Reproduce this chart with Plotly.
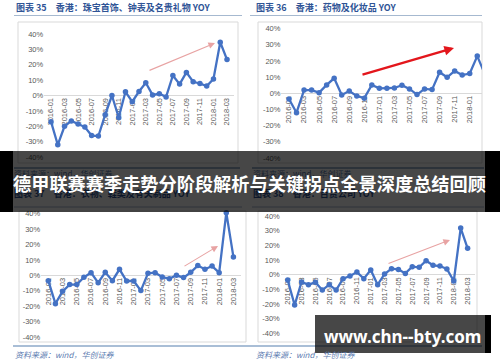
import plotly.graph_objects as go

W, H = 500, 362

months = ["2016-01", "2016-02", "2016-03", "2016-04", "2016-05", "2016-06", "2016-07",
          "2016-08", "2016-09", "2016-10", "2016-11", "2016-12", "2017-01", "2017-02",
          "2017-03", "2017-04", "2017-05", "2017-06", "2017-07", "2017-08", "2017-09",
          "2017-10", "2017-11", "2017-12", "2018-01", "2018-02", "2018-03"]
tick_months = ["2016-01", "2016-03", "2016-05", "2016-07", "2016-09", "2016-11", "2017-01",
               "2017-03", "2017-05", "2017-07", "2017-09", "2017-11", "2018-01", "2018-03"]
y_ticks = [-40, -30, -20, -10, 0, 10, 20, 30, 40]
y_ticktext = ["-40%", "-30%", "-20%", "-10%", "0%", "10%", "20%", "30%", "40%"]

jewelry_yoy = [-17, -32, -20, -16.5, -18.5, -20.5, -26, -26.3, -12.5, 0, -14.3, 2.4, -4, 2.6,
               8.3, 0.4, 1.1, -0.9, 13, 7.4, 15, 8.9, 7.8, 6.1, 10.7, 34.6, 23.3]
drug_yoy = [-3.5, -12, 2, 2, 0.4, 5.2, 9.3, -1, 1.4, -1.6, -3, 5.2, 3.1, 3.1, 3.3, 5, 2.7,
            -0.8, 2.7, 2.3, 13, 9.9, 13.8, 11.3, 12.2, 23, 12]
clothing_yoy = [-3.5, -18.4, -10.4, -6, -6, -1.3, 1.7, -4.8, 1.9, -3.5, 3.9, -3.7, -3.7, -9.9,
                1.3, 1.7, -1.1, -2.2, 0, -1.5, 1.9, 6.3, 3.9, 6, 1.7, 40.6, 11.9]
dept_yoy = [-3.6, -20.7, -5, -6.8, -5.2, -10.5, -6.8, -10.5, -2.7, -0.9, 1.8, -2.7, 3.2, -6.8,
            0.5, 4.1, 3.6, 0.9, 5.5, 5, 9.5, 6.4, 5.9, 3.9, -4.3, 31.8, 18]

titles = ["图表 35　香港：珠宝首饰、钟表及名贵礼物 YOY",
          "图表 36　香港：药物及化妆品 YOY",
          "图表 37　香港：衣物、鞋类及有关制品 YOY",
          "图表 38　香港：百货公司 YOY"]
source_text = "资料来源：wind，华创证券"
banner_text = "德甲联赛赛季走势分阶段解析与关键拐点全景深度总结回顾"
watermark_text = "www.chn--bty.com"

series = [jewelry_yoy, drug_yoy, clothing_yoy, dept_yoy]

# geometry of each panel (pixels): first point x, px per month, x range, zero-line y, px per %
panels = [
    dict(x0=51.0, dx=6.77, xr=(-1, 27), y0=95.5, ppu=1.54),
    dict(x0=289.0, dx=7.53, xr=(-1, 25.63), y0=93.3, ppu=1.617),
    dict(x0=48.3, dx=7.12, xr=(-1, 27), y0=275.3, ppu=1.543),
    dict(x0=287.7, dx=6.92, xr=(-1, 27), y0=274.7, ppu=1.467),
]

LINE = "#4472c4"
TICKFONT = dict(family="Liberation Sans, Arial", size=7.5, color="#595959")
TITLEFONT = dict(family="Noto Sans CJK SC", size=9, color="#2f5496", weight="bold")
SRCFONT = dict(family="Noto Sans CJK SC", size=8, color="#5b7bb0", style="italic")

def px(x):
    return x / W

def py(y):
    return 1 - y / H

fig = go.Figure()
layout = dict(width=W, height=H, margin=dict(l=0, r=0, t=0, b=0),
              paper_bgcolor="white", plot_bgcolor="rgba(0,0,0,0)", showlegend=False)

for i, (vals, g) in enumerate(zip(series, panels)):
    n = "" if i == 0 else str(i + 1)
    fig.add_trace(go.Scatter(x=months, y=vals, mode="lines+markers",
                             line=dict(color=LINE, width=2.3),
                             marker=dict(color=LINE, size=5.5),
                             cliponaxis=False, hoverinfo="skip",
                             xaxis="x" + n, yaxis="y" + n))
    xl = g["x0"] + g["xr"][0] * g["dx"]
    xr = g["x0"] + g["xr"][1] * g["dx"]
    yt = g["y0"] - 45 * g["ppu"]
    yb = g["y0"] + 45 * g["ppu"]
    layout["xaxis" + n] = dict(domain=[px(xl), px(xr)], type="category",
                               categoryorder="array", categoryarray=months,
                               range=list(g["xr"]), anchor="free", position=py(g["y0"]),
                               tickmode="array", tickvals=tick_months, ticktext=tick_months,
                               tickangle=-90, tickfont=TICKFONT, showgrid=False,
                               showline=False, zeroline=False, ticks="",
                               layer="below traces", fixedrange=True)
    layout["yaxis" + n] = dict(domain=[py(yb), py(yt)], range=[-45, 45], anchor="x" + n,
                               tickmode="array", tickvals=y_ticks, ticktext=y_ticktext,
                               tickfont=TICKFONT, showgrid=False, showline=False,
                               zeroline=True, zerolinecolor="#d9d9d9", zerolinewidth=1,
                               ticks="", layer="below traces", fixedrange=True)

# overlay pixel axis for text hidden beneath the banner
layout["xaxis5"] = dict(domain=[0, 1], range=[0, W], visible=False, fixedrange=True)
layout["yaxis5"] = dict(domain=[0, 1], range=[H, 0], visible=False, fixedrange=True, anchor="x5")
fig.add_trace(go.Scatter(x=[14, 253], y=[175, 175], mode="text",
                         text=[source_text, source_text], textposition="middle right",
                         textfont=dict(family="Noto Sans CJK SC", size=8, color="#5b7bb0"),
                         hoverinfo="skip", xaxis="x5", yaxis="y5"))
fig.add_trace(go.Scatter(x=[14, 253], y=[195, 195], mode="text",
                         text=[titles[2], titles[3]], textposition="middle right",
                         textfont=dict(family="Noto Sans CJK SC", size=9, color="#2f5496", weight="bold"),
                         hoverinfo="skip", xaxis="x5", yaxis="y5"))

shapes = []

def rect(x0, y0, x1, y1, **kw):
    d = dict(type="rect", xref="paper", yref="paper",
             x0=px(x0), x1=px(x1), y0=py(y1), y1=py(y0))
    d.update(kw)
    shapes.append(d)

def hline(x0, x1, y, color, width, layer="below"):
    shapes.append(dict(type="line", xref="paper", yref="paper", x0=px(x0), x1=px(x1),
                       y0=py(y), y1=py(y), line=dict(color=color, width=width), layer=layer))

# chart boxes
for (a, b, c, d) in [(18, 22, 238, 163), (258, 22, 482, 163), (19, 211, 246, 342), (258, 211, 477, 342)]:
    rect(a, b, c, d, line=dict(color="#d9d9d9", width=1), fillcolor="rgba(0,0,0,0)", layer="below")

# title underlines and source separators
hline(14, 242, 15.5, "#a6b9d0", 1)
hline(250, 482, 15.5, "#a6b9d0", 1)
hline(14, 240, 168, "#7f99bb", 1.5)
hline(252, 484, 168, "#7f99bb", 1.5)
hline(14, 242, 207, "#a6b9d0", 1)
hline(252, 484, 207, "#a6b9d0", 1)
hline(13, 250, 346, "#8da9c8", 1.5)
hline(250, 482, 346, "#8da9c8", 1.5)

# banner
rect(0, 151, 13, 212, line=dict(width=0), fillcolor="black", layer="above")
rect(13, 151, 485, 212, line=dict(width=0), fillcolor="rgba(0,0,0,0.72)", layer="above")
rect(485, 151, 500, 212, line=dict(width=0), fillcolor="black", layer="above")
# watermark box
rect(315, 315, 485, 353, line=dict(width=0), fillcolor="rgba(0,0,0,0.72)", layer="above")
rect(485, 315, 491, 353, line=dict(width=0), fillcolor="black", layer="above")

annotations = []
def text(x, y, s, font, xanchor="left"):
    annotations.append(dict(xref="paper", yref="paper", x=px(x), y=py(y), text=s,
                            showarrow=False, xanchor=xanchor, yanchor="middle", font=font))

text(14, 8, titles[0], TITLEFONT)
text(254, 8, titles[1], TITLEFONT)
text(13, 354, source_text, SRCFONT)
text(254, 354, source_text, SRCFONT)
text(249, 183, banner_text,
     dict(family="Noto Sans CJK SC", size=18.2, color="white", weight="bold"), xanchor="center")
text(402, 336, watermark_text,
     dict(family="Noto Sans, Open Sans", size=17, color="white", weight="bold"), xanchor="center")

def arrow(tail, head, color, width, size):
    annotations.append(dict(xref="paper", yref="paper", x=px(head[0]), y=py(head[1]),
                            ax=tail[0] - head[0], ay=tail[1] - head[1], text="",
                            showarrow=True, arrowhead=2, arrowsize=size, arrowwidth=width,
                            arrowcolor=color, standoff=0, startstandoff=0))

arrow((148, 71), (215, 43), "#e8a3a3", 1.1, 1.2)
arrow((361, 75), (454, 48), "#e3161c", 2.4, 0.8)
arrow((183, 267), (218, 246), "#e8a3a3", 1.1, 1.2)
arrow((387, 264), (450, 240), "#e8a3a3", 1.1, 1.2)

layout["shapes"] = shapes
layout["annotations"] = annotations
fig.update_layout(**layout)
fig.write_html("out.html", config={"displayModeBar": False, "staticPlot": True},
               post_script="document.body.style.margin='0';document.body.style.overflow='hidden';")
